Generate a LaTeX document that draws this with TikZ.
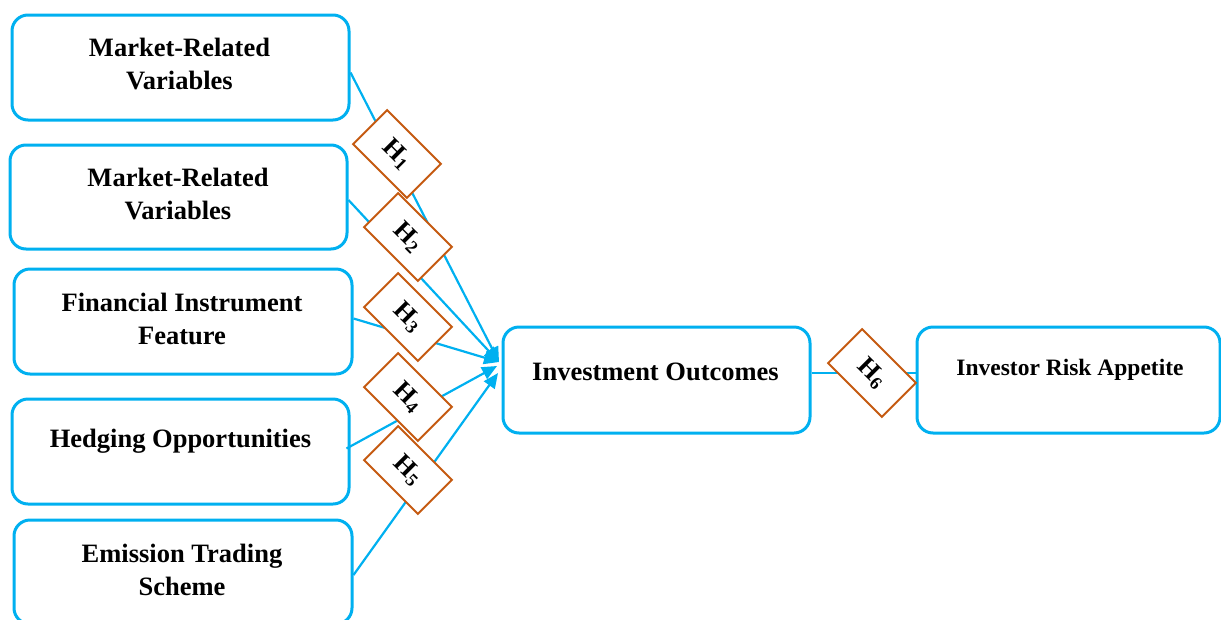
\documentclass[tikz,border=0pt]{standalone}
\usepackage{fontspec}
\setmainfont{Liberation Serif}
\usetikzlibrary{arrows.meta,calc}
\definecolor{cblue}{HTML}{00B0F0}
\definecolor{corange}{HTML}{C55A11}
\tikzset{
  box/.style={draw=cblue,line width=3pt,rounded corners=16pt,fill=white,inner sep=0pt},
  txt/.style={font=\fontsize{26.5}{33}\selectfont\bfseries,align=center,inner sep=0pt},
  smalltxt/.style={font=\fontsize{23.5}{29}\selectfont\bfseries,align=center,inner sep=0pt},
  hyp/.style={draw=corange,line width=2pt,fill=white,rotate=-45,minimum width=76pt,minimum height=48pt,inner sep=0pt,font=\fontsize{26}{28}\selectfont\bfseries},
  conn/.style={draw=cblue,line width=2.2pt},
  arr/.style={conn,-{Triangle[length=15pt,width=13pt]}}
}
\begin{document}
\begin{tikzpicture}[x=1pt,y=-1pt]
\useasboundingbox (0,0) rectangle (1221,619);
% boxes
\node[box,minimum width=337pt,minimum height=105pt] (b1) at (180.5,67.5) {};
\node[box,minimum width=337pt,minimum height=104pt] (b2) at (178.5,197) {};
\node[box,minimum width=338pt,minimum height=105pt] (b3) at (183,321.5) {};
\node[box,minimum width=337pt,minimum height=105pt] (b4) at (180.5,451.5) {};
\node[box,minimum width=338pt,minimum height=104pt] (b5) at (183,572) {};
\node[box,minimum width=307pt,minimum height=106pt] (io) at (656.5,380) {};
\node[box,minimum width=303pt,minimum height=106pt] (ira) at (1068.5,380) {};
% texts
\node[txt] (t1) at (179.5,64) {Market-Related\\Variables};
\node[txt] (t2) at (178,194) {Market-Related\\Variables};
\node[txt] (t3) at (182,319) {Financial Instrument\\Feature};
\node[txt] (t4) at (180.5,441) {Hedging Opportunities};
\node[txt] (t5) at (182,569.5) {Emission Trading\\Scheme};
\node[txt] (tio) at (655.5,372) {Investment Outcomes};
\node[smalltxt] (tira) at (1070,370) {Investor Risk Appetite};
% targets
\coordinate (p1) at (499,362);
\coordinate (p4) at (497,366);
\coordinate (p5) at (498,373);
% connectors
\draw[arr] ([yshift=-5pt]b1.east) -- (p1);
\draw[arr] ([yshift=-3pt]b2.east) -- (p1);
\draw[arr] ([yshift=3pt]b3.east) -- (p1);
\draw[arr] ([xshift=-4pt,yshift=3pt]b4.east) -- (p4);
\draw[arr] ([yshift=-3pt]b5.east) -- (p5);
\draw[conn] ([yshift=7pt]io.east) -- ([yshift=7pt]ira.west);
% hypotheses
\node[hyp] (h1) at (397,154) {H\textsubscript{1}};
\node[hyp] (h2) at (408,237) {H\textsubscript{2}};
\node[hyp] (h3) at (408,317) {H\textsubscript{3}};
\node[hyp] (h4) at (408,397) {H\textsubscript{4}};
\node[hyp] (h5) at (408,470) {H\textsubscript{5}};
\node[hyp] (h6) at (872,373) {H\textsubscript{6}};
\end{tikzpicture}
\end{document}
